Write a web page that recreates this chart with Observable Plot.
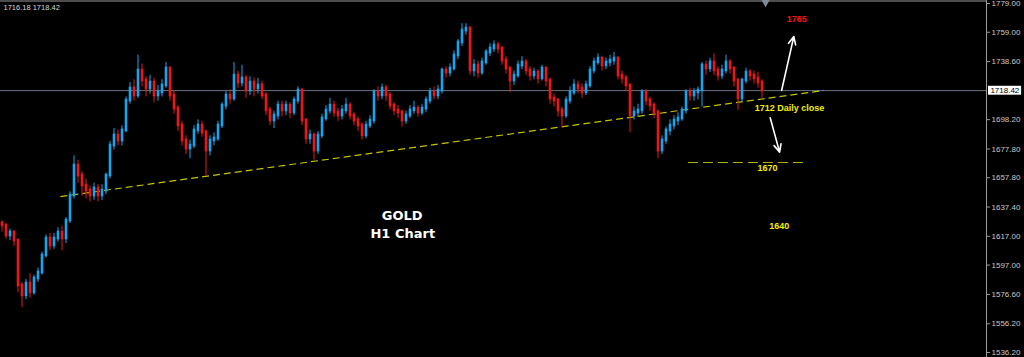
<!DOCTYPE html>
<html>
<head>
<meta charset="utf-8">
<script src="https://cdn.jsdelivr.net/npm/d3@7"></script>
<script src="https://cdn.jsdelivr.net/npm/@observablehq/plot@0.6"></script>
<style>
  html, body { margin: 0; padding: 0; background: #000; }
  #chart { width: 1024px; height: 357px; overflow: hidden; }
</style>
</head>
<body>
<div id="chart"></div>
<script>
// ---- data (hourly gold candles) ----
const firstOpen = 1626;
const closes = [
1624.5,1617.6,1619.7,1614.1,1582.8,1575.9,1584.2,1578.0,1587.7,1591.9,
1603.7,1615.5,1610.6,1615.5,1619.7,1615.5,1628.0,1645.4,1666.3,1659.3,
1652.4,1648.9,1645.4,1650.3,1645.4,1648.9,1659.3,1680.2,1687.2,1683.7,
1690.7,1711.5,1719.9,1715.0,1732.4,1725.4,1719.9,1724.0,1715.0,1717.1,
1722.0,1733.8,1715.0,1705.9,1694.1,1683.7,1678.1,1680.2,1690.7,1694.1,
1689.3,1676.7,1683.7,1685.1,1694.1,1708.0,1715.0,1712.9,1728.9,1724.0,
1726.9,1718.5,1724.0,1719.9,1722.0,1715.0,1704.6,1697.6,1701.1,1708.0,
1704.6,1708.0,1703.2,1711.5,1718.5,1697.6,1685.1,1687.2,1676.7,1687.2,
1699.0,1704.6,1708.0,1703.2,1701.1,1704.6,1708.0,1701.1,1697.6,1694.1,
1687.2,1694.1,1697.6,1717.1,1715.0,1719.9,1715.0,1708.0,1704.6,1703.2,
1697.6,1701.1,1704.6,1705.9,1703.2,1705.9,1711.5,1717.1,1715.0,1718.5,
1732.4,1731.0,1733.8,1742.8,1751.9,1760.2,1761.6,1732.4,1735.9,1731.0,
1738.0,1744.9,1747.7,1749.8,1747.7,1739.3,1733.8,1725.4,1728.9,1735.9,
1738.0,1732.4,1728.9,1731.0,1726.9,1733.8,1725.4,1712.9,1711.5,1704.6,
1701.1,1711.5,1717.1,1722.0,1719.9,1717.1,1722.0,1732.4,1738.0,1740.7,
1735.9,1738.0,1739.3,1740.7,1728.9,1726.9,1722.0,1701.1,1703.2,1704.6,
1717.1,1711.5,1708.0,1703.2,1676.7,1683.7,1690.7,1694.1,1697.6,1699.0,
1704.6,1717.1,1715.0,1717.1,1718.5,1735.9,1733.8,1738.0,1732.4,1728.9,
1732.4,1738.0,1733.8,1725.4,1712.9,1725.4,1731.0,1728.9,1726.9,1724.0,
1718.42];
const highs = [
1628,1626,1622,1621,1615,1585,1587,1591,1590,1595,
1606,1618,1619,1619,1623,1624,1630,1648,1673,1670,
1662,1657,1652,1654,1653,1653,1661,1683,1692,1691,
1694,1714,1724,1726,1743,1737,1728,1729,1727,1722,
1726,1738,1735,1718,1708,1697,1687,1684,1694,1698,
1697,1691,1687,1689,1697,1710,1718,1719,1738,1732,
1736,1729,1728,1727,1727,1725,1717,1707,1704,1711,
1711,1711,1710,1714,1721,1720,1699,1691,1689,1690,
1702,1708,1713,1711,1706,1708,1713,1710,1703,1700,
1696,1697,1701,1719,1721,1723,1722,1717,1710,1708,
1705,1704,1708,1711,1708,1709,1714,1720,1721,1722,
1734,1735,1737,1746,1754,1765,1765,1763,1740,1739,
1741,1747,1751,1753,1752,1749,1742,1735,1732,1739,
1742,1740,1735,1734,1733,1736,1735,1727,1716,1713,
1707,1714,1721,1726,1725,1723,1725,1735,1741,1744,
1742,1741,1743,1745,1742,1732,1729,1723,1707,1709,
1719,1719,1714,1710,1705,1687,1693,1698,1701,1703,
1707,1719,1720,1720,1721,1738,1739,1741,1744,1735,
1736,1743,1740,1735,1727,1727,1734,1733,1732,1731,
1726];
const lows = [
1620,1615,1614,1610,1578,1567.5,1573,1574,1576,1585,
1590,1602,1607,1608,1613,1607,1612,1626,1643,1654,
1645,1643,1641,1642,1641,1642,1646,1657,1677,1680,
1680,1689,1709,1711,1713,1721,1714,1716,1710,1711,
1714,1720,1711,1702,1690,1680,1674,1671,1678,1688,
1686,1659,1673,1680,1683,1692,1705,1709,1711,1720,
1721,1713,1715,1714,1716,1712,1701,1694,1692,1698,
1700,1701,1699,1701,1709,1694,1681,1681,1670,1674,
1685,1697,1702,1700,1697,1698,1702,1698,1694,1690,
1684,1685,1692,1695,1711,1712,1711,1705,1701,1699,
1693,1695,1699,1702,1700,1701,1703,1709,1712,1712,
1716,1727,1728,1732,1740,1749,1757,1729,1728,1727,
1729,1736,1742,1745,1744,1736,1730,1717,1722,1727,
1733,1729,1725,1726,1723,1725,1721,1709,1707,1700,
1693,1699,1709,1715,1716,1713,1715,1720,1730,1736,
1732,1733,1735,1736,1726,1723,1718,1689,1698,1700,
1702,1708,1704,1699,1671,1674,1681,1687,1691,1694,
1697,1702,1711,1711,1712,1707,1729,1731,1729,1725,
1726,1730,1730,1721,1704.6,1710,1723,1725,1723,1720,
1713];

// price axis tick labels
const yTicks = [1779.00,1759.00,1738.60,1698.20,1677.80,1657.80,1637.40,1617.00,1597.00,1576.60,1556.20,1536.20];
const bid = 1716.18;
const ask = 1718.42;

// annotations (in bar index / price units)
const trendLine = [{x1: 14.6, y1: 1644.7, x2: 205.4, y2: 1718.5}];
const targetLine = [{x1: 171.6, x2: 200.9, y: 1668.4}];
const arrows = [
  {x1: 194.9, y1: 1718.5, x2: 197.95, y2: 1756.0},
  {x1: 192.05, y1: 1699.5, x2: 194.4, y2: 1675.6}
];
const labels = [
  {text: "1765", x: 198.7, y: 1767.9, color: "#ff1010"},
  {text: "1712 Daily close", x: 196.9, y: 1706.4, color: "#f0f000"},
  {text: "1670", x: 191.4, y: 1664.2, color: "#f0f000"},
  {text: "1640", x: 194.3, y: 1624.1, color: "#f0f000"}
];
const titleLines = [
  {text: "GOLD", x: 100.05, y: 1631.5},
  {text: "H1 Chart", x: 100.2, y: 1618.8}
];

// ---- build candles ----
const candles = closes.map((c, i) => {
  const o = i === 0 ? firstOpen : closes[i - 1];
  return {
    i, open: o, close: c,
    high: Math.max(highs[i], o, c),
    low: Math.min(lows[i], o, c),
    up: c >= o
  };
});

const UP = "#14a6ee", DOWN = "#ee1418";
const xMin = -0.375, xMax = 246.125;
const yMin = 1532.72, yMax = 1781.09;

const chart = Plot.plot({
  width: 1024,
  height: 357,
  marginLeft: 0,
  marginRight: 38,
  marginTop: 0,
  marginBottom: 0,
  x: {domain: [xMin, xMax], axis: null},
  y: {domain: [yMin, yMax], axis: null},
  style: {background: "#000", color: "#c8c8c8", fontFamily: "Liberation Sans, Arial, sans-serif", fontSize: "8px", overflow: "visible"},
  marks: [
    // current price line
    Plot.ruleY([ask], {stroke: "#66717e", strokeWidth: 1}),
    // trend line
    Plot.link(trendLine, {x1: "x1", y1: "y1", x2: "x2", y2: "y2", stroke: "#c4c400", strokeWidth: 1.2, strokeDasharray: "7,4"}),
    // candle wicks
    Plot.ruleX(candles, {x: "i", y1: "low", y2: "high", stroke: d => d.up ? UP : DOWN, strokeWidth: 1}),
    // candle bodies
    Plot.ruleX(candles, {x: "i", y1: "open", y2: "close", stroke: d => d.up ? UP : DOWN, strokeWidth: 2.6, strokeLinecap: "square"}),
    // target dashed line
    Plot.ruleY(targetLine, {y: "y", x1: "x1", x2: "x2", stroke: "#b0b000", strokeWidth: 1.2, strokeDasharray: "10,5"}),
    // arrows
    Plot.arrow(arrows, {x1: "x1", y1: "y1", x2: "x2", y2: "y2", stroke: "white", strokeWidth: 1.6, headLength: 8, headAngle: 50}),
    // annotation labels
    Plot.text(labels, {x: "x", y: "y", text: "text", fill: d => d.color, fontSize: 9, fontWeight: "bold", fontFamily: "Liberation Sans, Arial, sans-serif"}),
    Plot.text(titleLines, {x: "x", y: "y", text: "text", fill: "white", fontSize: 13, fontWeight: "bold", fontFamily: "DejaVu Sans, sans-serif"}),
    // top border & right axis line
    Plot.ruleY([yMax - 0.35], {stroke: "#9a9a9a"}),
    Plot.ruleX([xMax], {stroke: "#9a9a9a"}),
    // shift marker
    Plot.dot([{x: 190.9, y: 1779.9}], {x: "x", y: "y", symbol: "triangle", rotate: 180, r: 3.2, fill: "#7d8b99", stroke: "none"}),
    // price axis
    Plot.axisY(yTicks, {anchor: "right", tickFormat: d => d.toFixed(2), tickSize: 3, tickPadding: 2, stroke: "#9a9a9a", fill: "#c8c8c8", fontSize: 8}),
    // current price box
    Plot.rect([ask], {x1: () => 246.62, x2: () => 254.9, y1: d => d - 3.2, y2: d => d + 3.0, fill: "white"}),
    Plot.text([ask], {x: () => 247.1, y: d => d, text: d => d.toFixed(2), fill: "black", textAnchor: "start", fontSize: 8}),
    // top-left quote
    Plot.text([`${bid.toFixed(2)} ${ask.toFixed(2)}`], {frameAnchor: "top-left", dx: 3, dy: 4, lineAnchor: "top", text: d => d, fill: "#d8d8d8", textAnchor: "start", fontSize: 7.5})
  ]
});
document.getElementById("chart").appendChild(chart);
</script>
</body>
</html>
